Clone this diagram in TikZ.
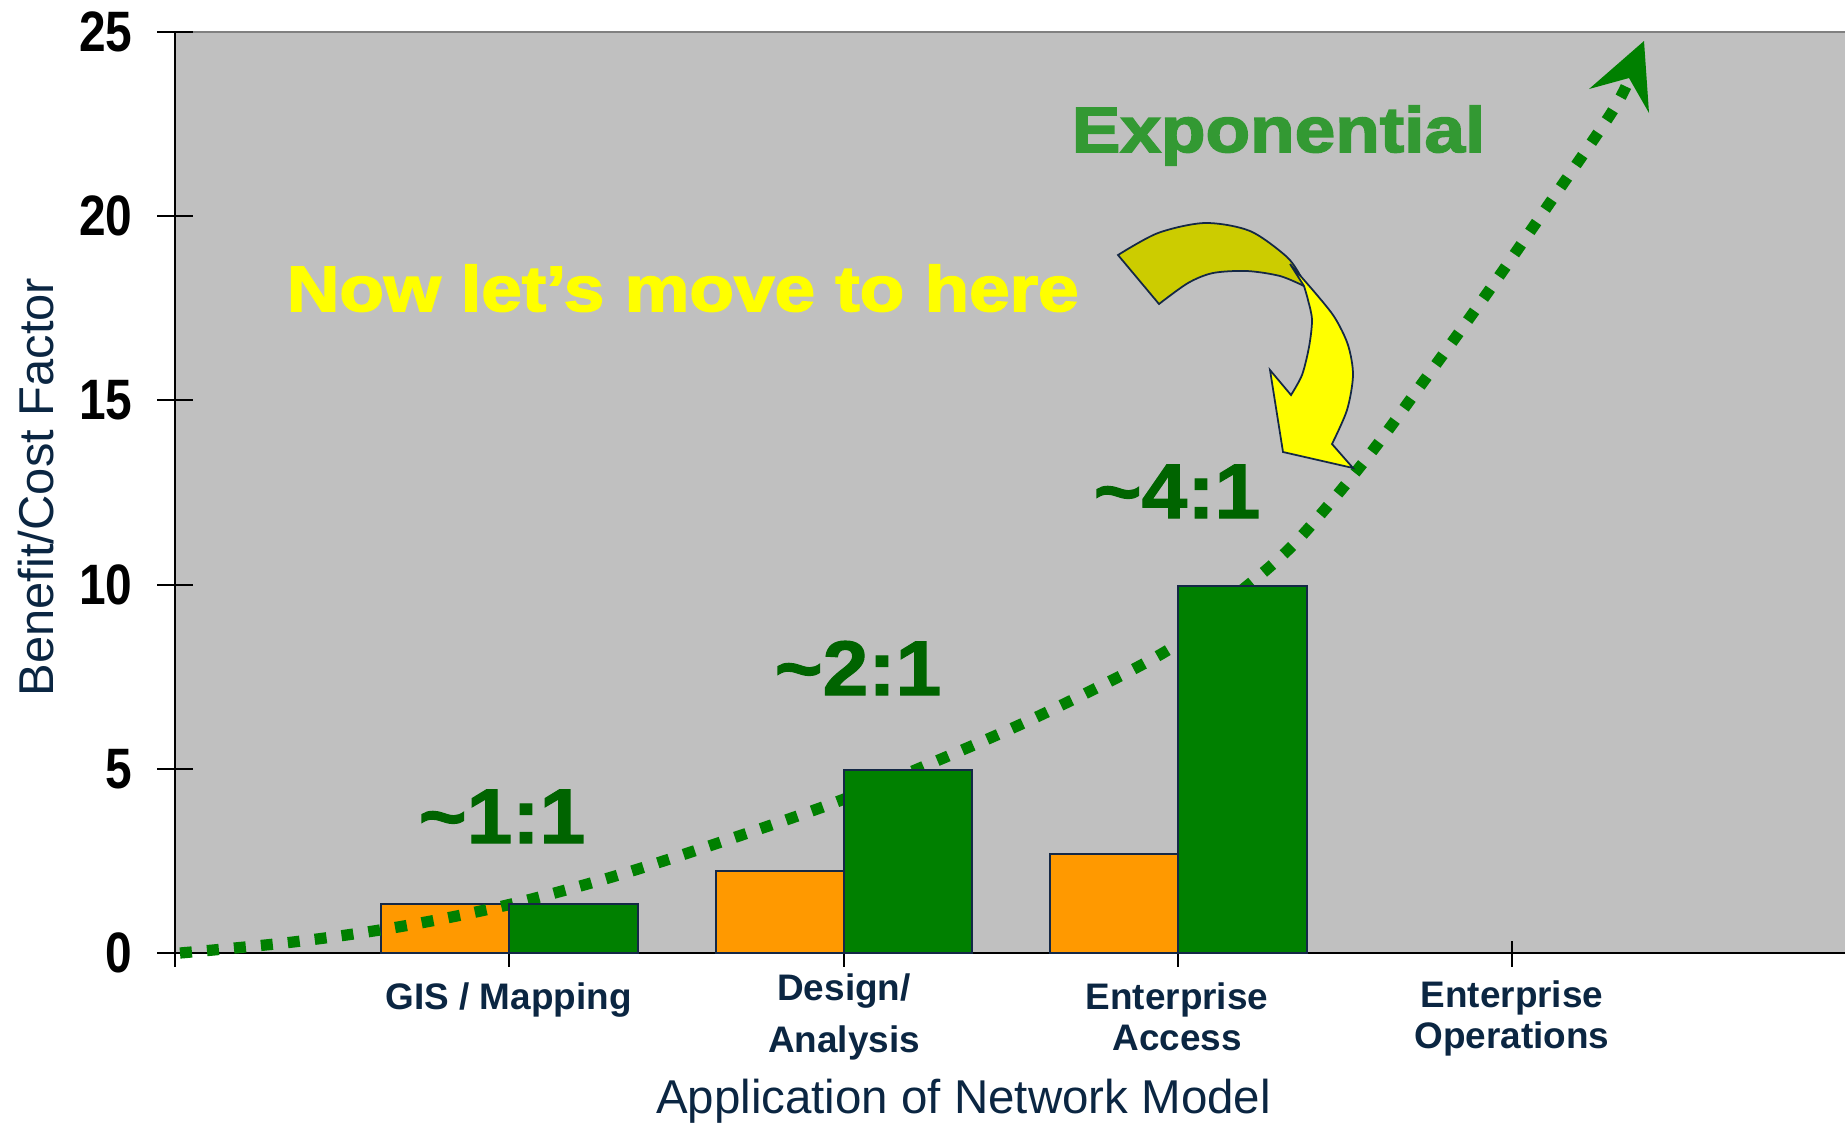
\documentclass[tikz,border=0pt]{standalone}
\usepackage{fontspec}
\setmainfont{Liberation Sans}
\newfontfamily\narrowbf[FakeStretch=0.84]{Liberation Sans Bold}
\newfontfamily\heavyfont[FakeStretch=1.14,FakeBold=2.5]{Liberation Sans Bold}
\newfontfamily\ratiofont[FakeStretch=1.06,FakeBold=1.5]{Liberation Sans Bold}
\definecolor{plotgray}{HTML}{C0C0C0}
\definecolor{bordergray}{HTML}{808080}
\definecolor{navy}{RGB}{11,38,66}
\definecolor{barorange}{HTML}{FF9900}
\definecolor{bargreen}{HTML}{008000}
\definecolor{ratiogreen}{HTML}{006400}
\definecolor{expgreen}{HTML}{339933}
\definecolor{darkyellow}{HTML}{CCCC00}
\definecolor{brightyellow}{HTML}{FFFF00}
\definecolor{barline}{RGB}{20,40,70}
\tikzset{
  axline/.style={draw=black, line width=0.65pt},
  axtick/.style={draw=black, line width=0.55pt},
  ticklabel/.style={font=\narrowbf\fontsize{16.2}{19}\selectfont, anchor=east, inner sep=0pt, text=black},
  catlabel/.style={font=\bfseries\fontsize{10.5}{11.6}\selectfont, text=navy, align=center, anchor=north, inner sep=0pt},
  axtitle/.style={font=\fontsize{13.5}{16}\selectfont, text=navy, anchor=base, inner sep=0pt},
  ratiolabel/.style={font=\ratiofont\fontsize{22}{26}\selectfont, text=ratiogreen, anchor=base, inner sep=0pt},
  heavylabel/.style={font=\heavyfont\fontsize{18.2}{22}\selectfont, anchor=base west, inner sep=0pt},
  orangebar/.style={fill=barorange, draw=barline, line width=0.45pt},
  greenbar/.style={fill=bargreen, draw=barline, line width=0.45pt},
  trendline/.style={draw=bargreen, line width=3.2pt, dash pattern=on 3.4pt off 4.3pt},
  bentarrow/.style={draw=barline, line width=0.5pt, line join=miter}
}
\begin{document}
\begin{tikzpicture}[x=0.01cm, y=-0.01cm]
\useasboundingbox (0,0) rectangle (1845,1123);
% plot area
\fill[plotgray] (175,32) rectangle (1845,953);
\draw[bordergray, line width=0.6pt] (175,32) -- (1845,32);
% y ticks and labels
\foreach \v/\yy in {25/32, 20/216.2, 15/400.4, 10/584.6, 5/768.8, 0/953} {
  \draw[axtick] (157,\yy) -- (193,\yy);
  \node[ticklabel] (yl\v) at (133,\yy) {\v};
}
% x ticks
\foreach \xx in {175, 509, 844, 1178, 1512} {
  \draw[axtick] (\xx,941) -- (\xx,967);
}
% axes
\draw[axline] (175,32) -- (175,967);
\draw[axline] (175,953) -- (1845,953);
% orange bars
\draw[orangebar] (381,904) rectangle (509,953);
\draw[orangebar] (716,871) rectangle (844,953);
\draw[orangebar] (1050,854) rectangle (1178,953);
% trend curve
\draw[trendline] plot[smooth, tension=0.55] coordinates {(180,953) (293,942) (398,927) (503,906) (605,879) (700,849) (831,804) (927,765) (1043,714) (1168,650) (1230,600) (1293,545) (1363,463) (1426,378) (1488,292) (1549,204) (1610,115) (1628,82)};
\fill[bargreen] (1644,41) -- (1589,89) -- (1629,78) -- (1649,113) -- cycle;
% green bars
\draw[greenbar] (509,904) rectangle (638,953);
\draw[greenbar] (844,770) rectangle (972,953);
\draw[greenbar] (1178,586) rectangle (1307,953);
% category labels
\node[catlabel] (gis) at (508.5,982) {GIS / Mapping};
\node[catlabel, font=\bfseries\fontsize{10.5}{14.8}\selectfont] (design) at (844,973) {Design/\\Analysis};
\node[catlabel] (eacc) at (1177,982) {Enterprise\\Access};
\node[catlabel] (eops) at (1512,980) {Enterprise\\Operations};
% axis titles
\node[axtitle] (xtitle) at (963.5,1113) {Application of Network Model};
\node[axtitle, font=\fontsize{13.9}{16}\selectfont, rotate=90] (ytitle) at (54,487) {Benefit/Cost Factor};
% ratio labels
\node[ratiolabel] (r1) at (502,843) {\textasciitilde 1:1};
\node[ratiolabel] (r2) at (858,695) {\textasciitilde 2:1};
\node[ratiolabel] (r4) at (1177,518) {\textasciitilde 4:1};
% headline texts
\node[heavylabel, text=expgreen] (expo) at (1071,152) {Exponential};
\node[heavylabel, text=brightyellow] (move) at (286,311) {Now let’s move to here};
% curved yellow arrow
\filldraw[bentarrow, fill=darkyellow] plot[smooth] coordinates {(1118,255) (1158,233) (1205,223) (1250,231) (1287,257) (1301,277)} -- (1304,286) -- plot[smooth] coordinates {(1304,286) (1280,276) (1247,271) (1213,273) (1188,283) (1159,304)} -- cycle;
\filldraw[bentarrow, fill=brightyellow] plot[smooth] coordinates {(1290,264) (1317,295) (1335,318) (1348,345) (1353,375) (1347,410) (1332,444)} -- (1353,468) -- (1283,452) -- (1270,370) -- (1291,395) -- plot[smooth] coordinates {(1291,395) (1302,375) (1309,347) (1312,320) (1308,300) (1304,286)} -- cycle;
\end{tikzpicture}
\end{document}
